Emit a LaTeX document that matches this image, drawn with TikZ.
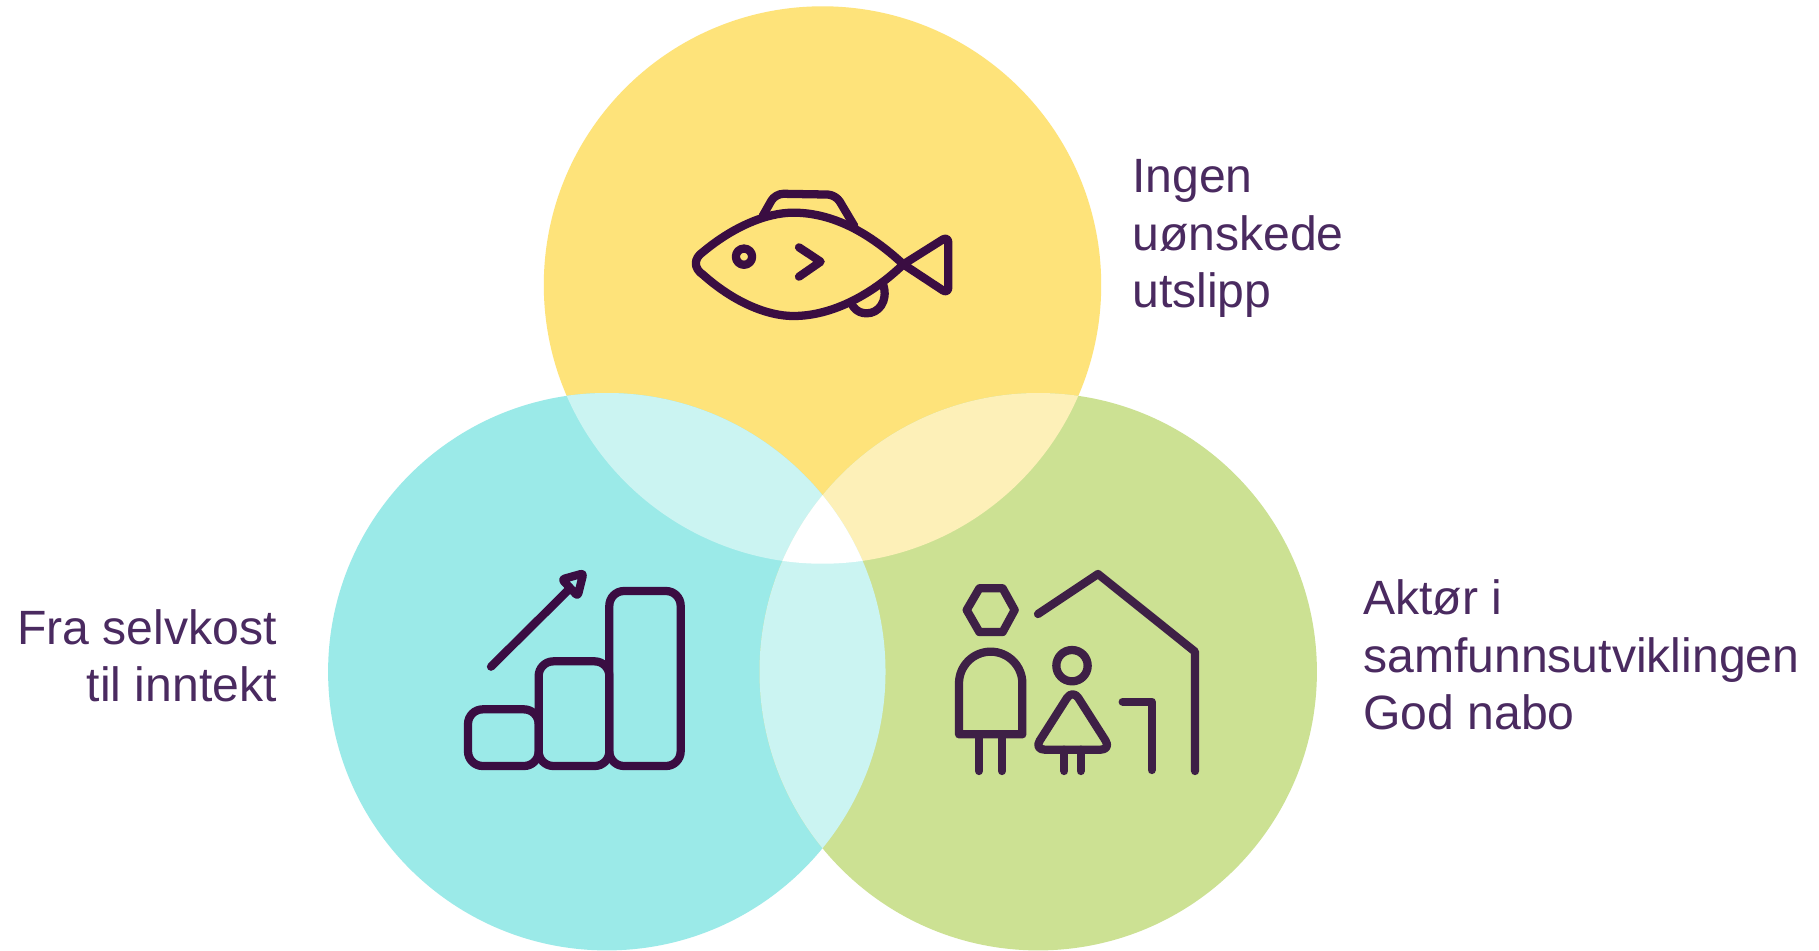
\documentclass[tikz,border=0pt]{standalone}
\usepackage{fontspec}
\setmainfont{Liberation Sans}
\definecolor{cyel}{HTML}{FEE37A}
\definecolor{cteal}{HTML}{9BEAE8}
\definecolor{cgrn}{HTML}{CCE193}
\definecolor{cyelgrn}{HTML}{FDF0B8}
\definecolor{cteallt}{HTML}{CBF4F2}
\definecolor{ctxt}{HTML}{4A2A60}
\definecolor{cico}{HTML}{3A0D42}
\definecolor{chouse}{HTML}{3E2046}
\newcommand{\circT}{(822.5,285) circle[radius=209.03pt]}
\newcommand{\circL}{(606.8,671.7) circle[radius=209.03pt]}
\newcommand{\circR}{(1038.2,671.7) circle[radius=209.03pt]}
\tikzset{
  label text/.style={text=ctxt,inner sep=0pt,font=\fontsize{36.1}{43.1}\selectfont},
  fishline/.style={draw=cico,line width=6.2pt,line cap=round,line join=round},
  houseline/.style={draw=chouse,line width=6.2pt,line cap=round,line join=round},
  iconscale/.style={x=0.25pt,y=-0.25pt}
}
\begin{document}
\begin{tikzpicture}[x=0.75pt,y=-0.75pt]
\useasboundingbox (0,0) rectangle (1819,950);
\fill[white] (0,0) rectangle (1819,950);
% circles
\fill[cyel] \circT;
\fill[cteal] \circL;
\fill[cgrn] \circR;
% lenses
\begin{scope}\clip \circT; \fill[cteallt] \circL; \end{scope}
\begin{scope}\clip \circT; \fill[cyelgrn] \circR; \end{scope}
\begin{scope}\clip \circL; \fill[cteallt] \circR; \end{scope}
\begin{scope}\clip \circT; \clip \circL; \fill[white] \circR; \end{scope}
% fish
\begin{scope}[shift={(670,170)},iconscale]
  \draw[fishline] (100,245) .. controls (190,170) and (290,128) .. (370,128)
        .. controls (490,128) and (600,190) .. (700,283)
        .. controls (610,370) and (490,438) .. (370,438)
        .. controls (290,438) and (190,395) .. (100,315)
        .. controls (70,295) and (70,265) .. (100,245) -- cycle;
  \draw[fishline,rounded corners=5pt] (700,283) -- (835,198) -- (835,372) -- (700,283);
  \draw[fishline,rounded corners=6pt] (278,138) -- (316,71) -- (497,74) -- (553,168);
  \draw[fishline] (640,345) .. controls (655,395) and (625,430) .. (590,430)
        .. controls (575,430) and (560,425) .. (548,408);
  \draw[fishline] (222,260) circle[radius=6.1pt];
  \draw[fishline] (387,232) -- (452,275) -- (387,320);
\end{scope}
% bars
\begin{scope}[shift={(450,550)},iconscale]
  \draw[fishline,rounded corners=11pt] (54,478) rectangle (266,648);
  \draw[fishline,rounded corners=11pt] (266,334) rectangle (478,648);
  \draw[fishline,rounded corners=11pt] (478,123) rectangle (692,648);
  \draw[fishline] (123,350) -- (355,120);
  \draw[fishline,rounded corners=2pt] (336,88) -- (400,70) -- (383,138) -- cycle;
\end{scope}
% people and house
\begin{scope}[shift={(940,550)},iconscale]
  \draw[houseline] (294,192) -- (474,72) -- (765,305) -- (765,663);
  \draw[houseline] (548,455) -- (635,455) -- (635,660);
  \draw[houseline] (80,180) -- (118,115) -- (188,115) -- (224,180) -- (188,246) -- (118,246) -- cycle;
  \draw[houseline] (57,553) -- (57,400) arc[start angle=180,end angle=0,radius=23.75pt] -- (247,553) -- cycle;
  \draw[houseline] (117,553) -- (117,663);
  \draw[houseline] (186,553) -- (186,663);
  \draw[houseline] (396,347) circle[radius=11.75pt];
  \draw[houseline,rounded corners=8pt] (398,417) -- (282,599) -- (514,599) -- cycle;
  \draw[houseline] (373,599) -- (373,663);
  \draw[houseline] (422,599) -- (422,663);
\end{scope}
% labels
\node[label text,align=left,anchor=west] (ingen) at (1132,238.5) {Ingen\\uønskede\\utslipp};
\node[label text,align=right,anchor=east] (fra) at (277,656) {Fra selvkost\\til inntekt};
\node[label text,align=left,anchor=west] (aktor) at (1363,655) {Aktør i\\samfunnsutviklingen\\God nabo};
\end{tikzpicture}
\end{document}
